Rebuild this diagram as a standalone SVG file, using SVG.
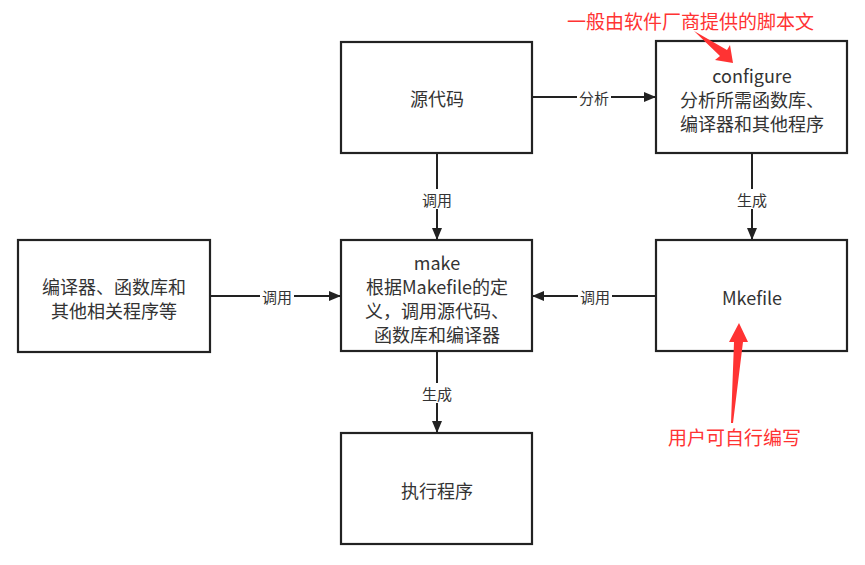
<svg xmlns="http://www.w3.org/2000/svg" width="865" height="565" viewBox="0 0 865 565">
<defs>
<style>
.box{fill:#fff;stroke:#222;stroke-width:2.2}
.t{font-family:"Noto Sans CJK SC","Noto Sans",sans-serif;font-size:18px;fill:#333;text-anchor:middle;dominant-baseline:central}
.lb{font-family:"Noto Sans CJK SC","Noto Sans",sans-serif;font-size:15px;fill:#333;text-anchor:middle;dominant-baseline:central}
.ln{stroke:#222;stroke-width:2;fill:none}
.red{font-family:"Noto Sans CJK SC","Noto Sans",sans-serif;font-size:19px;fill:#ff3333;dominant-baseline:central}
</style>
<marker id="ah" viewBox="0 0 12 12" refX="11" refY="6" markerWidth="12" markerHeight="12" markerUnits="userSpaceOnUse" orient="auto">
<path d="M0,1 L12,6 L0,11 Z" fill="#222"/>
</marker>
</defs>
<rect width="865" height="565" fill="#fff"/>
<g id="connectors">
<line class="ln" x1="532" y1="97" x2="655" y2="97" marker-end="url(#ah)"/>
<rect x="577" y="87" width="34" height="20" fill="#fff"/>
<text class="lb" x="594" y="97">分析</text>
<line class="ln" x1="437" y1="153" x2="437" y2="239" marker-end="url(#ah)"/>
<rect x="420" y="189" width="34" height="20" fill="#fff"/>
<text class="lb" x="437" y="199">调用</text>
<line class="ln" x1="752" y1="153" x2="752" y2="239" marker-end="url(#ah)"/>
<rect x="735" y="189" width="34" height="20" fill="#fff"/>
<text class="lb" x="752" y="199">生成</text>
<line class="ln" x1="210" y1="296" x2="340" y2="296" marker-end="url(#ah)"/>
<rect x="260" y="286" width="34" height="20" fill="#fff"/>
<text class="lb" x="277" y="296">调用</text>
<line class="ln" x1="656" y1="296" x2="533" y2="296" marker-end="url(#ah)"/>
<rect x="578" y="286" width="34" height="20" fill="#fff"/>
<text class="lb" x="595" y="296">调用</text>
<line class="ln" x1="437" y1="351" x2="437" y2="432" marker-end="url(#ah)"/>
<rect x="420" y="383" width="34" height="20" fill="#fff"/>
<text class="lb" x="437" y="393">生成</text>
</g>
<g id="src">
<rect class="box" x="341" y="42" width="191" height="111"/>
<text class="t" x="437" y="98">源代码</text>
</g>
<g id="configure">
<rect class="box" x="656" y="41" width="191" height="112"/>
<text class="t" x="752" y="75">configure</text>
<text class="t" x="752" y="99">分析所需函数库、</text>
<text class="t" x="752" y="123">编译器和其他程序</text>
</g>
<g id="libs">
<rect class="box" x="18" y="240" width="192" height="112"/>
<text class="t" x="114" y="286">编译器、函数库和</text>
<text class="t" x="114" y="310">其他相关程序等</text>
</g>
<g id="make">
<rect class="box" x="341" y="240" width="191" height="111"/>
<text class="t" x="437" y="262">make</text>
<text class="t" x="437" y="286">根据Makefile的定</text>
<text class="t" x="437" y="310">义，调用源代码、</text>
<text class="t" x="437" y="334">函数库和编译器</text>
</g>
<g id="mkefile">
<rect class="box" x="656" y="240" width="191" height="111"/>
<text class="t" x="752" y="297">Mkefile</text>
</g>
<g id="exec">
<rect class="box" x="341" y="433" width="191" height="111"/>
<text class="t" x="437" y="490">执行程序</text>
</g>
<g id="note-top">
<text class="red" x="567" y="20">一般由软件厂商提供的脚本文</text>
<path d="M694,31 L727,50 L730,45 L733,63 L715,60 L720,56 Z" fill="#ff3333"/>
</g>
<g id="note-bottom">
<path d="M731,423 L734,342 L729,342 L739,323 L748,342 L743,342 L733,423 Z" fill="#ff3333"/>
<text class="red" x="668" y="436">用户可自行编写</text>
</g>
</svg>
